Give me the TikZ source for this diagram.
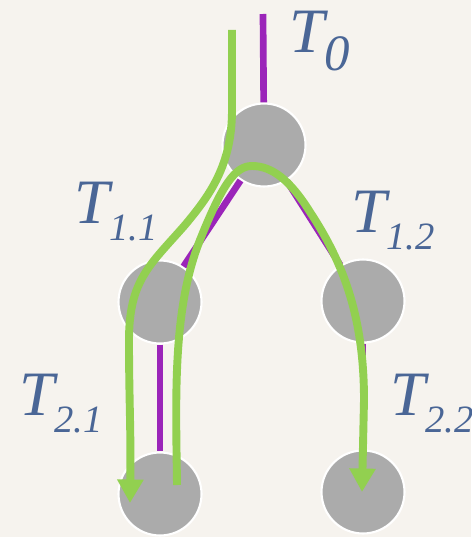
\documentclass[tikz,border=0pt]{standalone}
\usepackage{fontspec}
\setmainfont{Liberation Serif}
\usepackage{xcolor}
\usepackage{tikz}
\usetikzlibrary{positioning, arrows.meta}

\definecolor{paper}{HTML}{F6F3EE}
\definecolor{treegray}{HTML}{ABABAB}
\definecolor{edgepurple}{HTML}{9B25B9}
\definecolor{walkgreen}{HTML}{92D050}
\definecolor{labelblue}{HTML}{4A6696}
\newcommand{\tsub}[2][22]{\raisebox{-10pt}{\fontsize{#1}{#1}\selectfont #2}}

\begin{document}
\begin{tikzpicture}[x=0.02cm, y=-0.02cm,
  tnode/.style={circle, fill=treegray, draw=white, line width=1.2pt,
                minimum size=1.66cm, inner sep=0pt},
  tedge/.style={draw=edgepurple, line width=3.8pt},
  walk/.style={draw=walkgreen, line width=4.5pt,
               -{Triangle[length=0.47cm, width=0.5cm]}},
  lbl/.style={text=labelblue, inner sep=0pt, anchor=base west,
              font=\fontsize{36}{36}\selectfont\itshape}]
  \useasboundingbox (0,0) rectangle (471,537);
  \fill[paper] (0,0) rectangle (471,537);

  % tree
  \node[tnode] (root) at (264,145) {};
  \node[tnode] (n11) at (160,302) {};
  \node[tnode] (n12) at (363,301) {};
  \node[tnode] (n21) at (160,494) {};
  \node[tnode] (n22) at (363,492) {};
  \coordinate (top) at (263,14);

  \draw[tedge] (top) -- (root);
  \draw[tedge] (root) -- (n11);
  \draw[tedge] (root) -- (n12);
  \draw[tedge] (n11) -- (n21);
  \draw[tedge] (n12) -- (n22);

  % walks
  \coordinate (w1s) at (232,30);
  \coordinate (w1e) at (130,503);
  \coordinate (w2s) at (177,485);
  \coordinate (w2e) at (362,492);
  \draw[walk] (w1s) -- (232,110) .. controls (232,165) and (210,195) .. (185,225)
    .. controls (150,265) and (129,280) .. (129,340)
    .. controls (129,400) and (131,430) .. (w1e);
  \draw[walk] (w2s) .. controls (176,400) and (172,310) .. (200,240)
    .. controls (222,185) and (235,166) .. (252,166)
    .. controls (272,166) and (290,180) .. (310,212)
    .. controls (345,265) and (364,320) .. (364,400) -- (w2e);

  % labels
  \node[lbl] (lt0) at (289,53) {T\tsub[29]{0}};
  \node[lbl] (lt11) at (74,223) {T\tsub{1.1}};
  \node[lbl] (lt12) at (351,232) {T\tsub{1.2}};
  \node[lbl] (lt21) at (19,415) {T\tsub{2.1}};
  \node[lbl] (lt22) at (390,415) {T\tsub{2.2}};
\end{tikzpicture}
\end{document}
